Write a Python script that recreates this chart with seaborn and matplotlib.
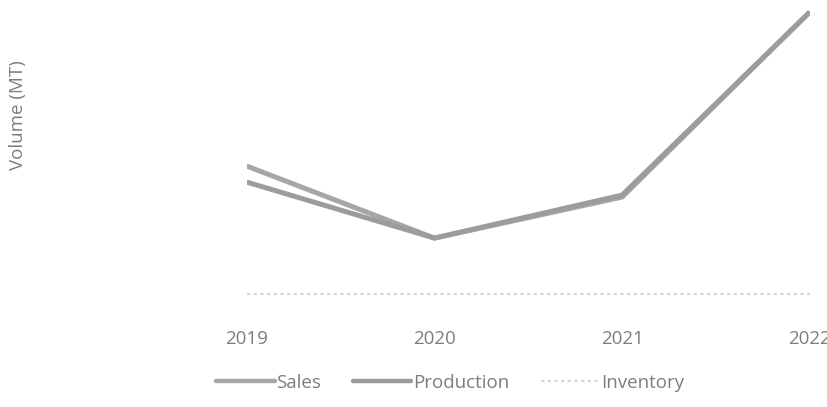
import matplotlib
matplotlib.use("Agg")
import matplotlib.pyplot as plt
import seaborn as sns
import pandas as pd
from matplotlib.lines import Line2D

years = ["2019", "2020", "2021", "2022"]
sales = [134, 62, 103, 288]
production = [118, 62, 105, 288]
inventory = [6, 6, 6, 6]

sns.set_theme(style="white")
plt.rcParams['font.family'] = ['Open Sans', 'DejaVu Sans']

df = pd.DataFrame({
    "Year": years * 3,
    "Volume": sales + production + inventory,
    "Series": ["Sales"] * 4 + ["Production"] * 4 + ["Inventory"] * 4,
})

fig = plt.figure(figsize=(8.28, 4.07), dpi=100)
ax = fig.add_axes([0.298, 0.238, 0.68, 0.762])

palette = {"Sales": "#a6a6a6", "Production": "#9c9c9c", "Inventory": "#d6d6d6"}
sns.lineplot(data=df, x="Year", y="Volume", hue="Series", style="Series",
             palette=palette, dashes={"Sales": "", "Production": "", "Inventory": (1.5, 1.5)},
             ax=ax, legend=False, sort=False)
for line, lw in zip(ax.lines, [3.6, 3.6, 1.6]):
    line.set_linewidth(lw)
    line.set_solid_capstyle("butt")

ax.set_xlim(0, 3)
ax.set_ylim(-10, 300)
for s in ax.spines.values():
    s.set_visible(False)
ax.set_yticks([])
ax.tick_params(axis="x", length=0, pad=14, labelsize=13.5, labelcolor="#7d7d7d")
ax.set_xlabel("")
ax.set_ylabel("")
fig.text(0.022, 0.717, "Volume (MT)", rotation=90, ha="center", va="center",
         fontsize=13.5, color="#7d7d7d")

handles = [Line2D([], [], color=palette["Sales"], lw=3.2),
           Line2D([], [], color=palette["Production"], lw=3.2),
           Line2D([], [], color=palette["Inventory"], lw=1.6, ls=(0, (1.5, 1.5)))]
leg = fig.legend(handles, ["Sales", "Production", "Inventory"], loc="center",
                 bbox_to_anchor=(0.544, 0.059), ncol=3, frameon=False,
                 handlelength=3.1, handletextpad=0.1, columnspacing=1.7,
                 prop={"size": 13.5})
for t in leg.get_texts():
    t.set_color("#7d7d7d")

fig.savefig("out.png", dpi=100, facecolor="white")
